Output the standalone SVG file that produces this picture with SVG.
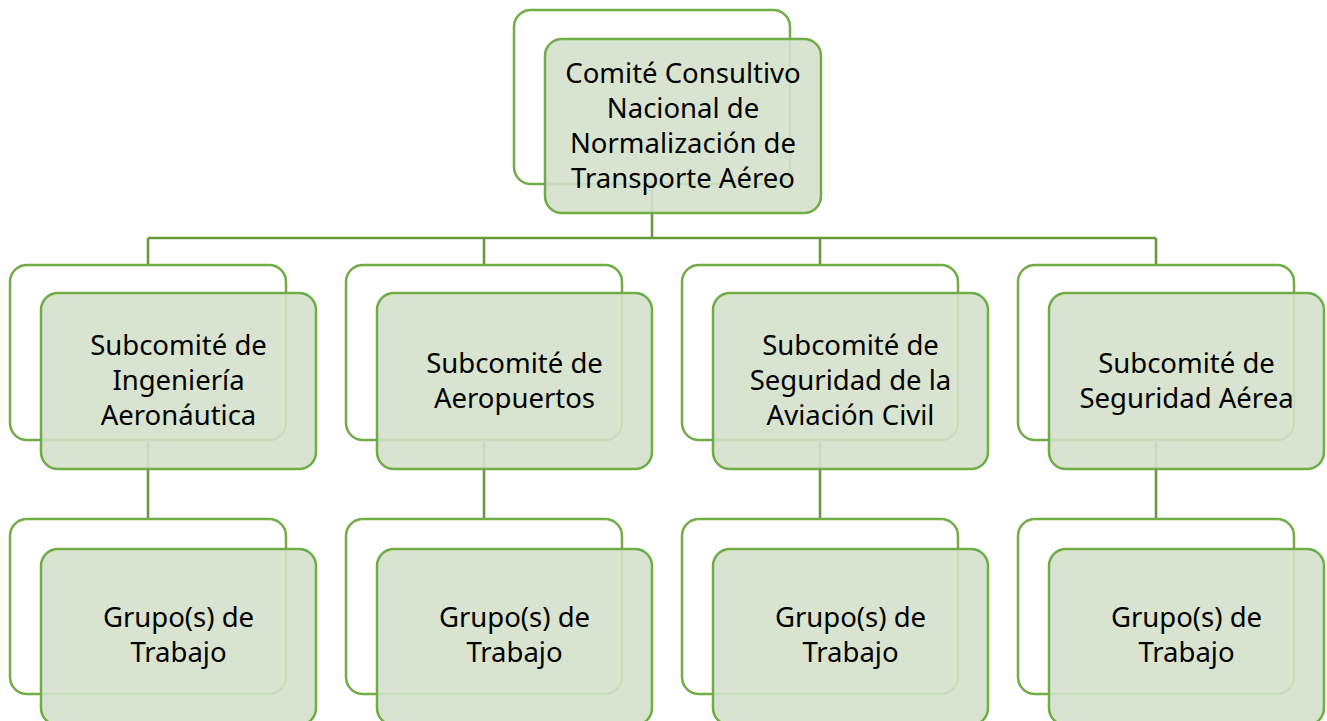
<svg xmlns="http://www.w3.org/2000/svg" width="1327" height="721" viewBox="0 0 1327 721">
<style>
.back{fill:#ffffff;stroke:#70ad47;stroke-width:2.5}
.front{fill:#d4e1cb;fill-opacity:0.9;stroke:#70ad47;stroke-width:2.5}
.conn{fill:none;stroke:#64993f;stroke-width:2.5}
text{font-family:"Noto Sans","Liberation Sans",sans-serif;font-size:27.5px;fill:#000;text-anchor:middle}
</style>
<rect width="1327" height="721" fill="#ffffff"/>
<g id="connectors">
<path class="conn" d="M652,184 V238 M148,238 H1156 M148,238 V265 M484,238 V265 M820,238 V265 M1156,238 V265"/>
<path class="conn" d="M148,440 V519 M484,440 V519 M820,440 V519 M1156,440 V519"/>
</g>
<g id="comite">
<rect class="back" x="514" y="10" width="276" height="174" rx="17"/>
<rect class="front" x="545" y="39" width="276" height="174" rx="17"/>
<text x="683" y="83">Comité Consultivo</text>
<text x="683" y="118">Nacional de</text>
<text x="683" y="153">Normalización de</text>
<text x="683" y="188">Transporte Aéreo</text>
</g>
<g id="sub1">
<rect class="back" x="10" y="265" width="276" height="175" rx="17"/>
<rect class="front" x="41" y="293" width="275" height="176" rx="17"/>
<text x="178.5" y="355">Subcomité de</text>
<text x="178.5" y="390">Ingeniería</text>
<text x="178.5" y="425">Aeronáutica</text>
</g>
<g id="sub2">
<rect class="back" x="346" y="265" width="276" height="175" rx="17"/>
<rect class="front" x="377" y="293" width="275" height="176" rx="17"/>
<text x="514.5" y="372.5">Subcomité de</text>
<text x="514.5" y="407.5">Aeropuertos</text>
</g>
<g id="sub3">
<rect class="back" x="682" y="265" width="276" height="175" rx="17"/>
<rect class="front" x="713" y="293" width="275" height="176" rx="17"/>
<text x="850.5" y="355">Subcomité de</text>
<text x="850.5" y="390">Seguridad de la</text>
<text x="850.5" y="425">Aviación Civil</text>
</g>
<g id="sub4">
<rect class="back" x="1018" y="265" width="276" height="175" rx="17"/>
<rect class="front" x="1049" y="293" width="275" height="176" rx="17"/>
<text x="1186.5" y="372.5">Subcomité de</text>
<text x="1186.5" y="407.5">Seguridad Aérea</text>
</g>
<g id="grupo1">
<rect class="back" x="10" y="519" width="276" height="175" rx="17"/>
<rect class="front" x="41" y="549" width="275" height="176" rx="17"/>
<text x="178.5" y="627">Grupo(s) de</text>
<text x="178.5" y="662">Trabajo</text>
</g>
<g id="grupo2">
<rect class="back" x="346" y="519" width="276" height="175" rx="17"/>
<rect class="front" x="377" y="549" width="275" height="176" rx="17"/>
<text x="514.5" y="627">Grupo(s) de</text>
<text x="514.5" y="662">Trabajo</text>
</g>
<g id="grupo3">
<rect class="back" x="682" y="519" width="276" height="175" rx="17"/>
<rect class="front" x="713" y="549" width="275" height="176" rx="17"/>
<text x="850.5" y="627">Grupo(s) de</text>
<text x="850.5" y="662">Trabajo</text>
</g>
<g id="grupo4">
<rect class="back" x="1018" y="519" width="276" height="175" rx="17"/>
<rect class="front" x="1049" y="549" width="275" height="176" rx="17"/>
<text x="1186.5" y="627">Grupo(s) de</text>
<text x="1186.5" y="662">Trabajo</text>
</g>
</svg>
